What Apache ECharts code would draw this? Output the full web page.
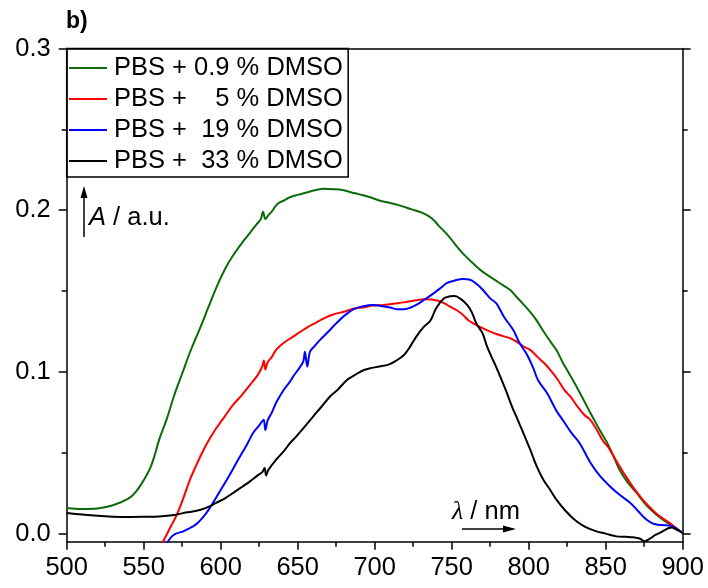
<!DOCTYPE html>
<html>
<head>
<meta charset="utf-8">
<script src="https://cdn.jsdelivr.net/npm/echarts@6/dist/echarts.min.js"></script>
<style>
html,body{margin:0;padding:0;background:#fff;}
#chart{width:708px;height:588px;}
</style>
</head>
<body>
<div id="chart"></div>
<script>
// ---- data ----
const legendLabels = ['PBS + 0.9 % DMSO', 'PBS +    5 % DMSO', 'PBS +  19 % DMSO', 'PBS +  33 % DMSO'];
const seriesColors = ['#0b6b0b', '#ff0000', '#0000ff', '#000000'];
const xTicks = [500, 550, 600, 650, 700, 750, 800, 850, 900];
const yTicks = [0, 0.1, 0.2, 0.3];
const yMinorTicks = [0.05, 0.15, 0.25];

const wlGreen = [500,510,520,530,540,545,550,554,557,560,565,570,575,580,587,592,598,603,608,614,619,623,626,627.5,629,631,633,637,641,645,650,656,662,667,673,679,685,690,697,703,710,716,724,731,737,742,748,753,758,764,770,775,781,788,792,796,801,805,810,815,818,822,825,831,836,840,845,851,855,859,864,870,876,883,888,892,896,900];
const absGreen = [0.0159,0.0152,0.0155,0.0175,0.0216,0.026,0.033,0.040,0.048,0.058,0.071,0.086,0.099,0.112,0.128,0.140,0.154,0.164,0.172,0.180,0.186,0.191,0.1945,0.199,0.1945,0.197,0.199,0.204,0.206,0.208,0.2095,0.211,0.2125,0.2132,0.213,0.2125,0.211,0.2098,0.208,0.206,0.2045,0.203,0.2005,0.1983,0.195,0.190,0.184,0.178,0.1725,0.167,0.162,0.1588,0.155,0.1506,0.1465,0.1424,0.137,0.132,0.1245,0.1175,0.1136,0.106,0.101,0.091,0.082,0.0747,0.066,0.056,0.048,0.0395,0.032,0.0253,0.018,0.0117,0.008,0.0056,0.003,0.0004];

const wlRed = [562,566,571,575,580,584,589,593,597,603,608,614,619,624,627,628,629,630.5,633,636,641,647,652,657,662,667,673,680,686,693,699,706,712,719,725,732,737,741,745,749,753,757,761,765,769,775,781,788,792,797,801,806,810,814,819,823,827,831,836,840,844,848.5,852,857,862,868,874,879,884,890,895,900];
const absRed = [-0.006,0.0015,0.0107,0.020,0.0333,0.042,0.052,0.059,0.065,0.073,0.0796,0.086,0.092,0.098,0.1035,0.107,0.1015,0.106,0.109,0.1136,0.118,0.1218,0.125,0.128,0.1305,0.1331,0.1355,0.1372,0.139,0.140,0.141,0.1414,0.1422,0.143,0.144,0.1449,0.1448,0.144,0.1425,0.1403,0.1383,0.1355,0.1318,0.1295,0.1275,0.1249,0.1228,0.1208,0.1187,0.1155,0.1136,0.109,0.1055,0.1012,0.095,0.089,0.0848,0.0795,0.0735,0.0704,0.0645,0.057,0.053,0.0447,0.037,0.0284,0.021,0.016,0.0115,0.0076,0.004,0.0004];

const wlBlue = [565,568,571,575.7,579,582,585,589,592,595,600,604,608,612.5,617,621,625,627,628,629,630.5,633,636.4,641,645,647,650,653.6,654.7,656.2,658,661,664.5,670,675,680,686,692,699,704,710,715,719,723,727,732,738,743,747,752,757,762,766,770,775,779,784,790,794,799,803,806,812,818,823,828,833,840,846,853,859,866,871,876,880,884,888,892,896,900];
const absBlue = [-0.006,-0.002,0.0,0.0014,0.003,0.0045,0.0065,0.0107,0.0145,0.019,0.027,0.0333,0.040,0.0477,0.055,0.0622,0.067,0.0695,0.0704,0.064,0.070,0.0745,0.0817,0.089,0.094,0.0971,0.101,0.1064,0.1125,0.1033,0.1125,0.116,0.1198,0.125,0.130,0.1345,0.1387,0.1405,0.1414,0.1408,0.1398,0.1387,0.1387,0.1397,0.1414,0.1445,0.1484,0.152,0.155,0.1565,0.1575,0.157,0.1545,0.151,0.1455,0.1424,0.134,0.1259,0.118,0.1105,0.1023,0.095,0.0868,0.076,0.069,0.062,0.056,0.044,0.036,0.029,0.024,0.019,0.014,0.009,0.0065,0.0055,0.0052,0.0049,0.003,0.0004];

const wlBlack = [500,510,520,530,540,550,560,570,576,581,587,592,597,603,608,614,619,624,627,628.5,629.5,631,636,641,645,649,654,660,665,671,676,682,687,693,698,703,709,714,719,723,727,732,736,740,745,749,752,756,760,763,766,770,773,776,779,785,790,792,797,801,805,809.5,814,818,824,831,837,844,850,857,863,868,872,875,879,882,885,888,891,893,895,898,900];
const absBlack = [0.0128,0.0118,0.011,0.0105,0.0103,0.0104,0.0106,0.0115,0.0128,0.0135,0.0148,0.0165,0.019,0.022,0.0251,0.029,0.0323,0.036,0.038,0.0405,0.036,0.0395,0.0457,0.051,0.056,0.060,0.0655,0.0724,0.078,0.0848,0.089,0.095,0.098,0.1012,0.1025,0.1033,0.1045,0.107,0.1105,0.1156,0.1218,0.128,0.1315,0.1395,0.1455,0.1468,0.147,0.145,0.1414,0.137,0.130,0.1239,0.1156,0.109,0.1028,0.089,0.0765,0.0724,0.061,0.0519,0.042,0.0333,0.027,0.021,0.014,0.0076,0.004,0.0014,0.0,-0.0017,-0.002,-0.0023,-0.003,-0.0047,-0.003,-0.001,0.0004,0.002,0.0035,0.0038,0.003,0.0015,0.0004];

const wlSets = [wlGreen, wlRed, wlBlue, wlBlack];
const absSets = [absGreen, absRed, absBlue, absBlack];

// ---- chart ----
const FONT = '"Liberation Sans", Arial, sans-serif';
const FS = 25.5;
const chart = echarts.init(document.getElementById('chart'), null, {renderer: 'canvas'});

const series = legendLabels.map((n, i) => ({
  name: n,
  type: 'line',
  xAxisIndex: 0,
  yAxisIndex: 0,
  showSymbol: false,
  symbol: 'none',
  smooth: 0.35,
  clip: true,
  z: 3 + i,
  lineStyle: {color: seriesColors[i], width: 2},
  itemStyle: {color: seriesColors[i]},
  data: wlSets[i].map((x, k) => [x, absSets[i][k]])
}));

function yAxisDef(pos, custom, len, labels) {
  return {
    type: 'value', position: pos, min: -0.005, max: 0.3,
    splitLine: {show: false},
    axisLine: {show: labels !== null, lineStyle: {color: '#000', width: 1.5}},
    axisTick: {show: true, customValues: custom, length: len, inside: false, lineStyle: {color: '#000', width: 1.5}},
    axisLabel: labels ? {
      show: true, customValues: custom, margin: 16,
      formatter: v => v.toFixed(1), color: '#000', fontSize: FS, fontFamily: FONT
    } : {show: false}
  };
}

const option = {
  animation: false,
  backgroundColor: '#fff',
  grid: {left: 66.7, right: 25.3, top: 48.5, bottom: 46.3, containLabel: false},
  xAxis: [{
    type: 'value', position: 'bottom', min: 500, max: 900, interval: 50,
    splitLine: {show: false},
    axisLine: {onZero: false, lineStyle: {color: '#000', width: 1.5}},
    axisTick: {length: 8, lineStyle: {color: '#000', width: 1.5}},
    minorTick: {show: true, splitNumber: 2, length: 5, lineStyle: {color: '#000', width: 1.5}},
    axisLabel: {color: '#000', fontSize: FS, fontFamily: FONT, margin: 13, customValues: xTicks}
  }, {
    type: 'value', position: 'top', min: 500, max: 900,
    splitLine: {show: false},
    axisLine: {onZero: false, lineStyle: {color: '#000', width: 1.5}},
    axisTick: {show: false}, axisLabel: {show: false}
  }],
  yAxis: [
    yAxisDef('left', yTicks, 8, true),
    Object.assign(yAxisDef('left', yMinorTicks, 5, false), {axisLine: {show: false}}),
    Object.assign(yAxisDef('right', yTicks, 8, false), {axisLine: {show: true, onZero: false, lineStyle: {color: '#000', width: 1.5}}}),
    Object.assign(yAxisDef('right', yMinorTicks, 5, false), {axisLine: {show: false}})
  ],
  legend: {
    show: true, orient: 'vertical', left: 69, top: 52.5, padding: 0, itemGap: 0,
    itemWidth: 38, itemHeight: 2, icon: 'rect',
    data: legendLabels,
    textStyle: {color: '#000', fontSize: FS, fontFamily: FONT, lineHeight: 31, padding: [0, 0, 0, 2]}
  },
  graphic: [
    {type: 'rect', shape: {x: 66.7, y: 48.5, width: 281.5, height: 128.5}, style: {fill: 'none', stroke: '#000', lineWidth: 1.5}, z: 10},
    {type: 'text', x: 66, y: 22, style: {text: 'b)', font: 'bold 23px ' + FONT, fill: '#000', verticalAlign: 'middle'}},
    {type: 'line', shape: {x1: 84, y1: 237, x2: 84, y2: 196}, style: {stroke: '#000', lineWidth: 1.5}},
    {type: 'polygon', shape: {points: [[84, 186], [80.5, 198], [87.5, 198]]}, style: {fill: '#000'}},
    {type: 'text', x: 89, y: 218, style: {
      text: '{i|A}{n| / a.u.}', verticalAlign: 'middle',
      rich: {i: {font: 'italic 25.5px ' + FONT, fill: '#000'}, n: {font: '25.5px ' + FONT, fill: '#000'}}
    }},
    {type: 'text', x: 452, y: 512, style: {
      text: '{l|λ}{n| / nm}', verticalAlign: 'middle',
      rich: {l: {font: 'italic 26px "Liberation Serif", "DejaVu Serif", serif', fill: '#000'}, n: {font: '25.5px ' + FONT, fill: '#000'}}
    }},
    {type: 'line', shape: {x1: 462, y1: 529, x2: 506, y2: 529}, style: {stroke: '#000', lineWidth: 1.5}},
    {type: 'polygon', shape: {points: [[516, 529], [503, 525.5], [503, 532.5]]}, style: {fill: '#000'}}
  ],
  series: series
};
chart.setOption(option);
</script>
</body>
</html>
